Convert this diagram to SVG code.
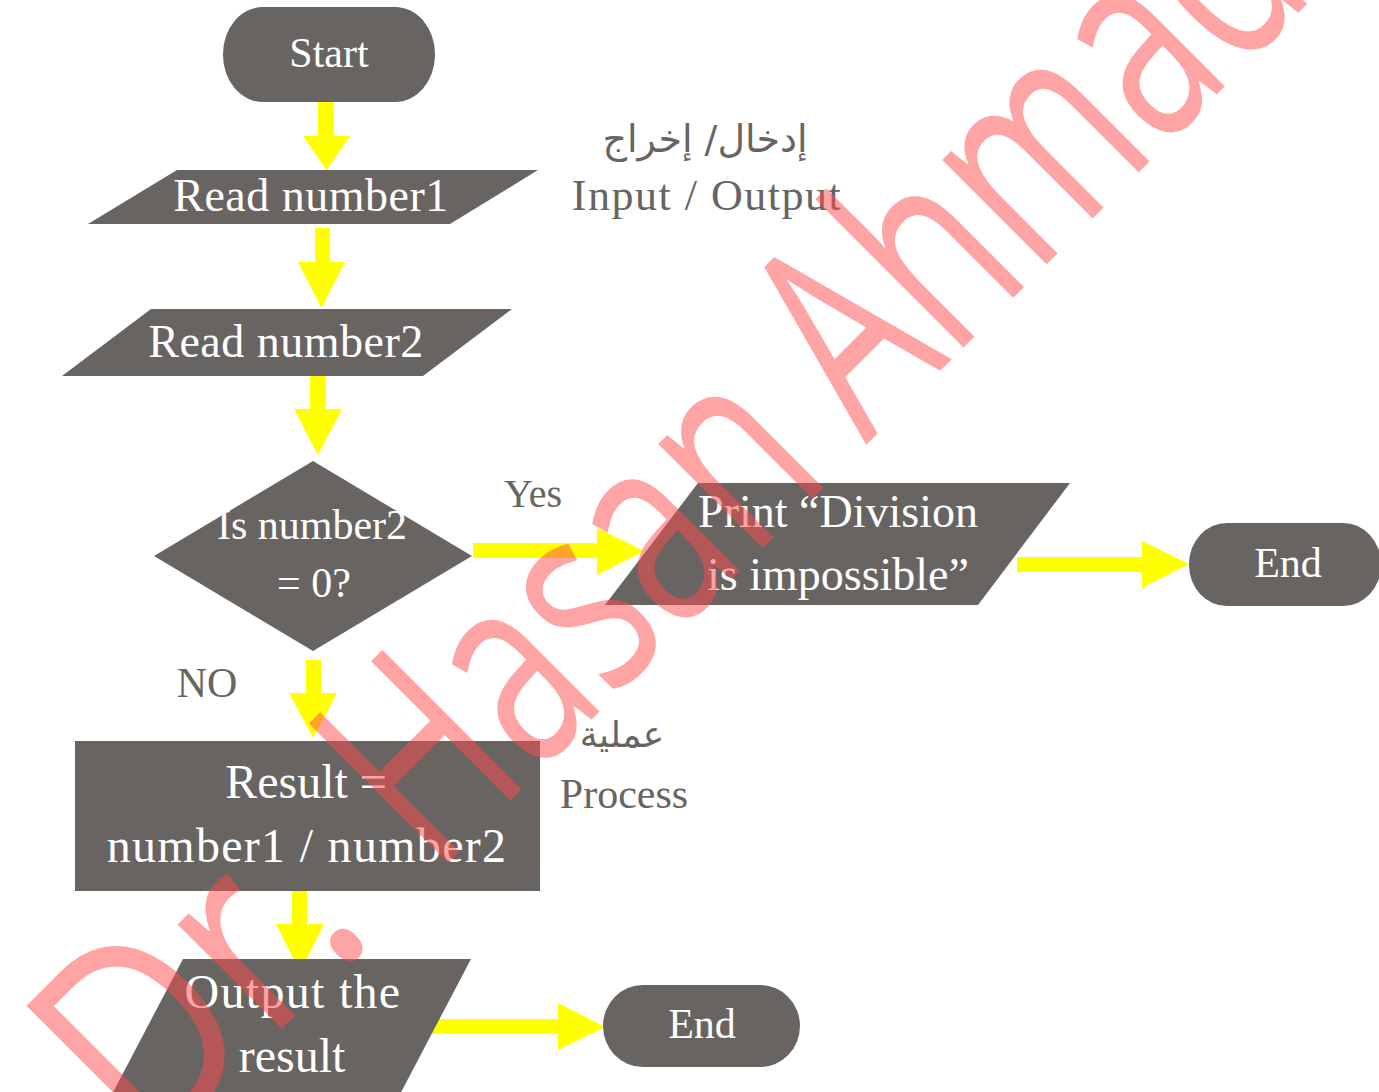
<svg xmlns="http://www.w3.org/2000/svg" width="1379" height="1092" viewBox="0 0 1379 1092">
<style>
.node{fill:#686462}
.nt{fill:#ffffff;font-family:"Liberation Serif",serif;text-anchor:middle}
.lbl{fill:#686462;font-family:"Liberation Serif",serif;text-anchor:middle}
.ar{fill:#686462;font-family:"DejaVu Sans","Noto Sans",sans-serif;text-anchor:middle}
.arrow{fill:#ffff00}
.wm{fill:#ff4c4c;opacity:0.5;font-family:"Open Sans","Noto Sans",sans-serif;font-size:276px}
</style>
<rect width="1379" height="1092" fill="#ffffff"/>
<g id="connectors">
<polygon class="arrow" points="318,102 334,102 334,136 350,136 326.5,170 303,136 318,136"/>
<polygon class="arrow" points="315,228 330,228 330,262 345,262 321.5,308 298,262 315,262"/>
<polygon class="arrow" points="310,376 326,376 326,409 342,409 318,455 294,409 310,409"/>
<polygon class="arrow" points="473,543 597,543 597,528 644,551 597,575 597,558 473,558"/>
<polygon class="arrow" points="1017,557 1142,557 1142,541 1189,564 1142,588 1142,572 1017,572"/>
<polygon class="arrow" points="306,660 321,660 321,693 337,693 313,738 289,693 306,693"/>
<polygon class="arrow" points="292,891 307,891 307,924 324,924 300,972 276,924 292,924"/>
<polygon class="arrow" points="432,1019 558,1019 558,1003 605,1027 558,1050 558,1034 432,1034"/>
</g>
<g id="start">
<rect class="node" x="223" y="7" width="212" height="95" rx="40" ry="47"/>
<text class="nt" x="329" y="67" font-size="42">Start</text>
</g>
<g id="read1">
<polygon class="node" points="177,170 538,170 450,224 88,224"/>
<text class="nt" x="311" y="211" font-size="46" letter-spacing="0.5">Read number1</text>
</g>
<g id="read2">
<polygon class="node" points="151,309 512,309 423,376 62,376"/>
<text class="nt" x="286" y="357" font-size="46" letter-spacing="0.5">Read number2</text>
</g>
<g id="io-label">
<text class="ar" x="705" y="152" font-size="38">إدخال/ إخراج</text>
<text class="lbl" x="707" y="210" font-size="44" letter-spacing="1.5">Input / Output</text>
</g>
<g id="decision">
<polygon class="node" points="313,461 472,556 313,651 154,556"/>
<text class="nt" x="312" y="539" font-size="42">Is number2</text>
<text class="nt" x="314" y="597" font-size="42">= 0?</text>
</g>
<g id="yes-label">
<text class="lbl" x="533" y="507" font-size="40">Yes</text>
</g>
<g id="print">
<polygon class="node" points="698,483 1070,483 978,605 605,605"/>
<text class="nt" x="838" y="527" font-size="46">Print “Division</text>
<text class="nt" x="838" y="590" font-size="46">is impossible”</text>
</g>
<g id="end1">
<rect class="node" x="1189" y="523" width="192" height="83" rx="38" ry="41"/>
<text class="nt" x="1288" y="577" font-size="42">End</text>
</g>
<g id="no-label">
<text class="lbl" x="207" y="697" font-size="42">NO</text>
</g>
<g id="process">
<rect class="node" x="75" y="741" width="465" height="150"/>
<text class="nt" x="306" y="798" font-size="48">Result =</text>
<text class="nt" x="307" y="862" font-size="48" letter-spacing="1.3">number1 / number2</text>
</g>
<g id="process-label">
<text class="ar" x="622" y="747" font-size="36">عملية</text>
<text class="lbl" x="624" y="808" font-size="42">Process</text>
</g>
<g id="output">
<polygon class="node" points="183,959 471,959 397,1100 109,1100"/>
<text class="nt" x="293" y="1008" font-size="48" letter-spacing="1.3">Output the</text>
<text class="nt" x="292" y="1072" font-size="48">result</text>
</g>
<g id="end2">
<rect class="node" x="603" y="985" width="197" height="82" rx="40" ry="41"/>
<text class="nt" x="702" y="1038" font-size="42">End</text>
</g>
<g id="watermark" transform="translate(655.5,655.5) rotate(-45)">
<text class="wm" x="-715" y="0" textLength="322" lengthAdjust="spacingAndGlyphs">Dr.</text>
<text class="wm" x="-312" y="0" textLength="565" lengthAdjust="spacingAndGlyphs">Hasan</text>
<text class="wm" x="298" y="0" textLength="640" lengthAdjust="spacingAndGlyphs">Ahmad</text>
</g>
</svg>
